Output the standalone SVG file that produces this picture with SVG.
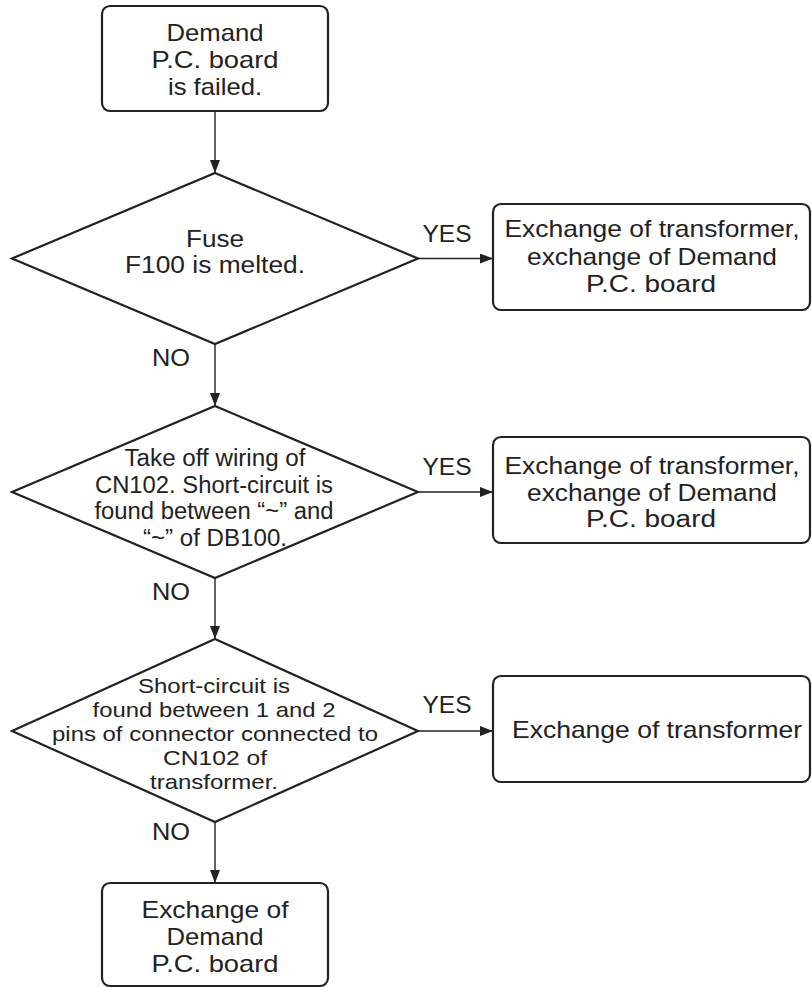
<svg xmlns="http://www.w3.org/2000/svg" width="812" height="988" viewBox="0 0 812 988">
<style>
.box{fill:#fff;stroke:#222;stroke-width:2.2}
.dia{fill:#fff;stroke:#222;stroke-width:2.2;stroke-linejoin:miter}
.ln{stroke:#222;stroke-width:1.4;fill:none}
text{font-family:"Liberation Sans",Arial,Helvetica,sans-serif;fill:#222;text-anchor:middle}
.t24{font-size:24px}
.t23{font-size:23.5px}
.t21{font-size:21px}
.lbl{font-size:24px}
</style>
<defs>
<marker id="ah" markerUnits="userSpaceOnUse" markerWidth="14" markerHeight="10" refX="13" refY="5" orient="auto">
<path d="M0,0 L13,5 L0,10 Z" fill="#222"/>
</marker>
</defs>
<g id="connectors">
<line class="ln" x1="215" y1="111" x2="215" y2="173" marker-end="url(#ah)"/>
<line class="ln" x1="215" y1="344" x2="215" y2="406" marker-end="url(#ah)"/>
<line class="ln" x1="215" y1="578" x2="215" y2="639" marker-end="url(#ah)"/>
<line class="ln" x1="215" y1="822" x2="215" y2="883" marker-end="url(#ah)"/>
<line class="ln" x1="418" y1="258.5" x2="493" y2="258.5" marker-end="url(#ah)"/>
<line class="ln" x1="418" y1="492" x2="493" y2="492" marker-end="url(#ah)"/>
<line class="ln" x1="418" y1="731" x2="493" y2="731" marker-end="url(#ah)"/>
<text class="lbl" x="171" y="366" textLength="38" lengthAdjust="spacingAndGlyphs">NO</text>
<text class="lbl" x="171" y="600" textLength="38" lengthAdjust="spacingAndGlyphs">NO</text>
<text class="lbl" x="171" y="840" textLength="38" lengthAdjust="spacingAndGlyphs">NO</text>
<text class="lbl" x="447" y="242" textLength="49" lengthAdjust="spacingAndGlyphs">YES</text>
<text class="lbl" x="447" y="475" textLength="49" lengthAdjust="spacingAndGlyphs">YES</text>
<text class="lbl" x="447" y="713" textLength="49" lengthAdjust="spacingAndGlyphs">YES</text>
</g>
<g id="start">
<rect class="box" x="102" y="6" width="226" height="105" rx="8"/>
<text class="t24" x="215" y="41" textLength="97" lengthAdjust="spacingAndGlyphs">Demand</text>
<text class="t24" x="215" y="68" textLength="127" lengthAdjust="spacingAndGlyphs">P.C. board</text>
<text class="t24" x="215" y="95" textLength="94" lengthAdjust="spacingAndGlyphs">is failed.</text>
</g>
<g id="d1">
<polygon class="dia" points="215,173 418,258.5 215,344 12,258.5"/>
<text class="t23" x="215" y="247" textLength="58" lengthAdjust="spacingAndGlyphs">Fuse</text>
<text class="t23" x="215" y="273" textLength="180" lengthAdjust="spacingAndGlyphs">F100 is melted.</text>
</g>
<g id="r1">
<rect class="box" x="493" y="204" width="317" height="106" rx="8"/>
<text class="t24" x="652" y="237" textLength="295" lengthAdjust="spacingAndGlyphs">Exchange of transformer,</text>
<text class="t24" x="652" y="264.5" textLength="250" lengthAdjust="spacingAndGlyphs">exchange of Demand</text>
<text class="t24" x="651" y="292" textLength="130" lengthAdjust="spacingAndGlyphs">P.C. board</text>
</g>
<g id="d2">
<polygon class="dia" points="215,406 418,492 215,578 12,492"/>
<text class="t23" x="215" y="466" textLength="181" lengthAdjust="spacingAndGlyphs">Take off wiring of</text>
<text class="t23" x="214" y="492.7" textLength="238" lengthAdjust="spacingAndGlyphs">CN102. Short-circuit is</text>
<text class="t23" x="214" y="519.3" textLength="239" lengthAdjust="spacingAndGlyphs">found between “~” and</text>
<text class="t23" x="215" y="546" textLength="144" lengthAdjust="spacingAndGlyphs">“~” of DB100.</text>
</g>
<g id="r2">
<rect class="box" x="493" y="437" width="317" height="106" rx="8"/>
<text class="t23" x="652" y="474" textLength="295" lengthAdjust="spacingAndGlyphs">Exchange of transformer,</text>
<text class="t23" x="652" y="500.5" textLength="250" lengthAdjust="spacingAndGlyphs">exchange of Demand</text>
<text class="t23" x="651" y="527" textLength="130" lengthAdjust="spacingAndGlyphs">P.C. board</text>
</g>
<g id="d3">
<polygon class="dia" points="215,639 418,731 215,822 12,731"/>
<text class="t21" x="214" y="693" textLength="152" lengthAdjust="spacingAndGlyphs">Short-circuit is</text>
<text class="t21" x="214" y="717" textLength="243" lengthAdjust="spacingAndGlyphs">found between 1 and 2</text>
<text class="t21" x="215" y="741" textLength="326" lengthAdjust="spacingAndGlyphs">pins of connector connected to</text>
<text class="t21" x="215" y="765" textLength="104" lengthAdjust="spacingAndGlyphs">CN102 of</text>
<text class="t21" x="214" y="789" textLength="128" lengthAdjust="spacingAndGlyphs">transformer.</text>
</g>
<g id="r3">
<rect class="box" x="493" y="676" width="317" height="106" rx="8"/>
<text class="t24" x="657" y="738" textLength="290" lengthAdjust="spacingAndGlyphs">Exchange of transformer</text>
</g>
<g id="end">
<rect class="box" x="102" y="883" width="226" height="103" rx="8"/>
<text class="t24" x="215" y="918" textLength="147" lengthAdjust="spacingAndGlyphs">Exchange of</text>
<text class="t24" x="215" y="945" textLength="97" lengthAdjust="spacingAndGlyphs">Demand</text>
<text class="t24" x="215" y="972" textLength="127" lengthAdjust="spacingAndGlyphs">P.C. board</text>
</g>
</svg>
